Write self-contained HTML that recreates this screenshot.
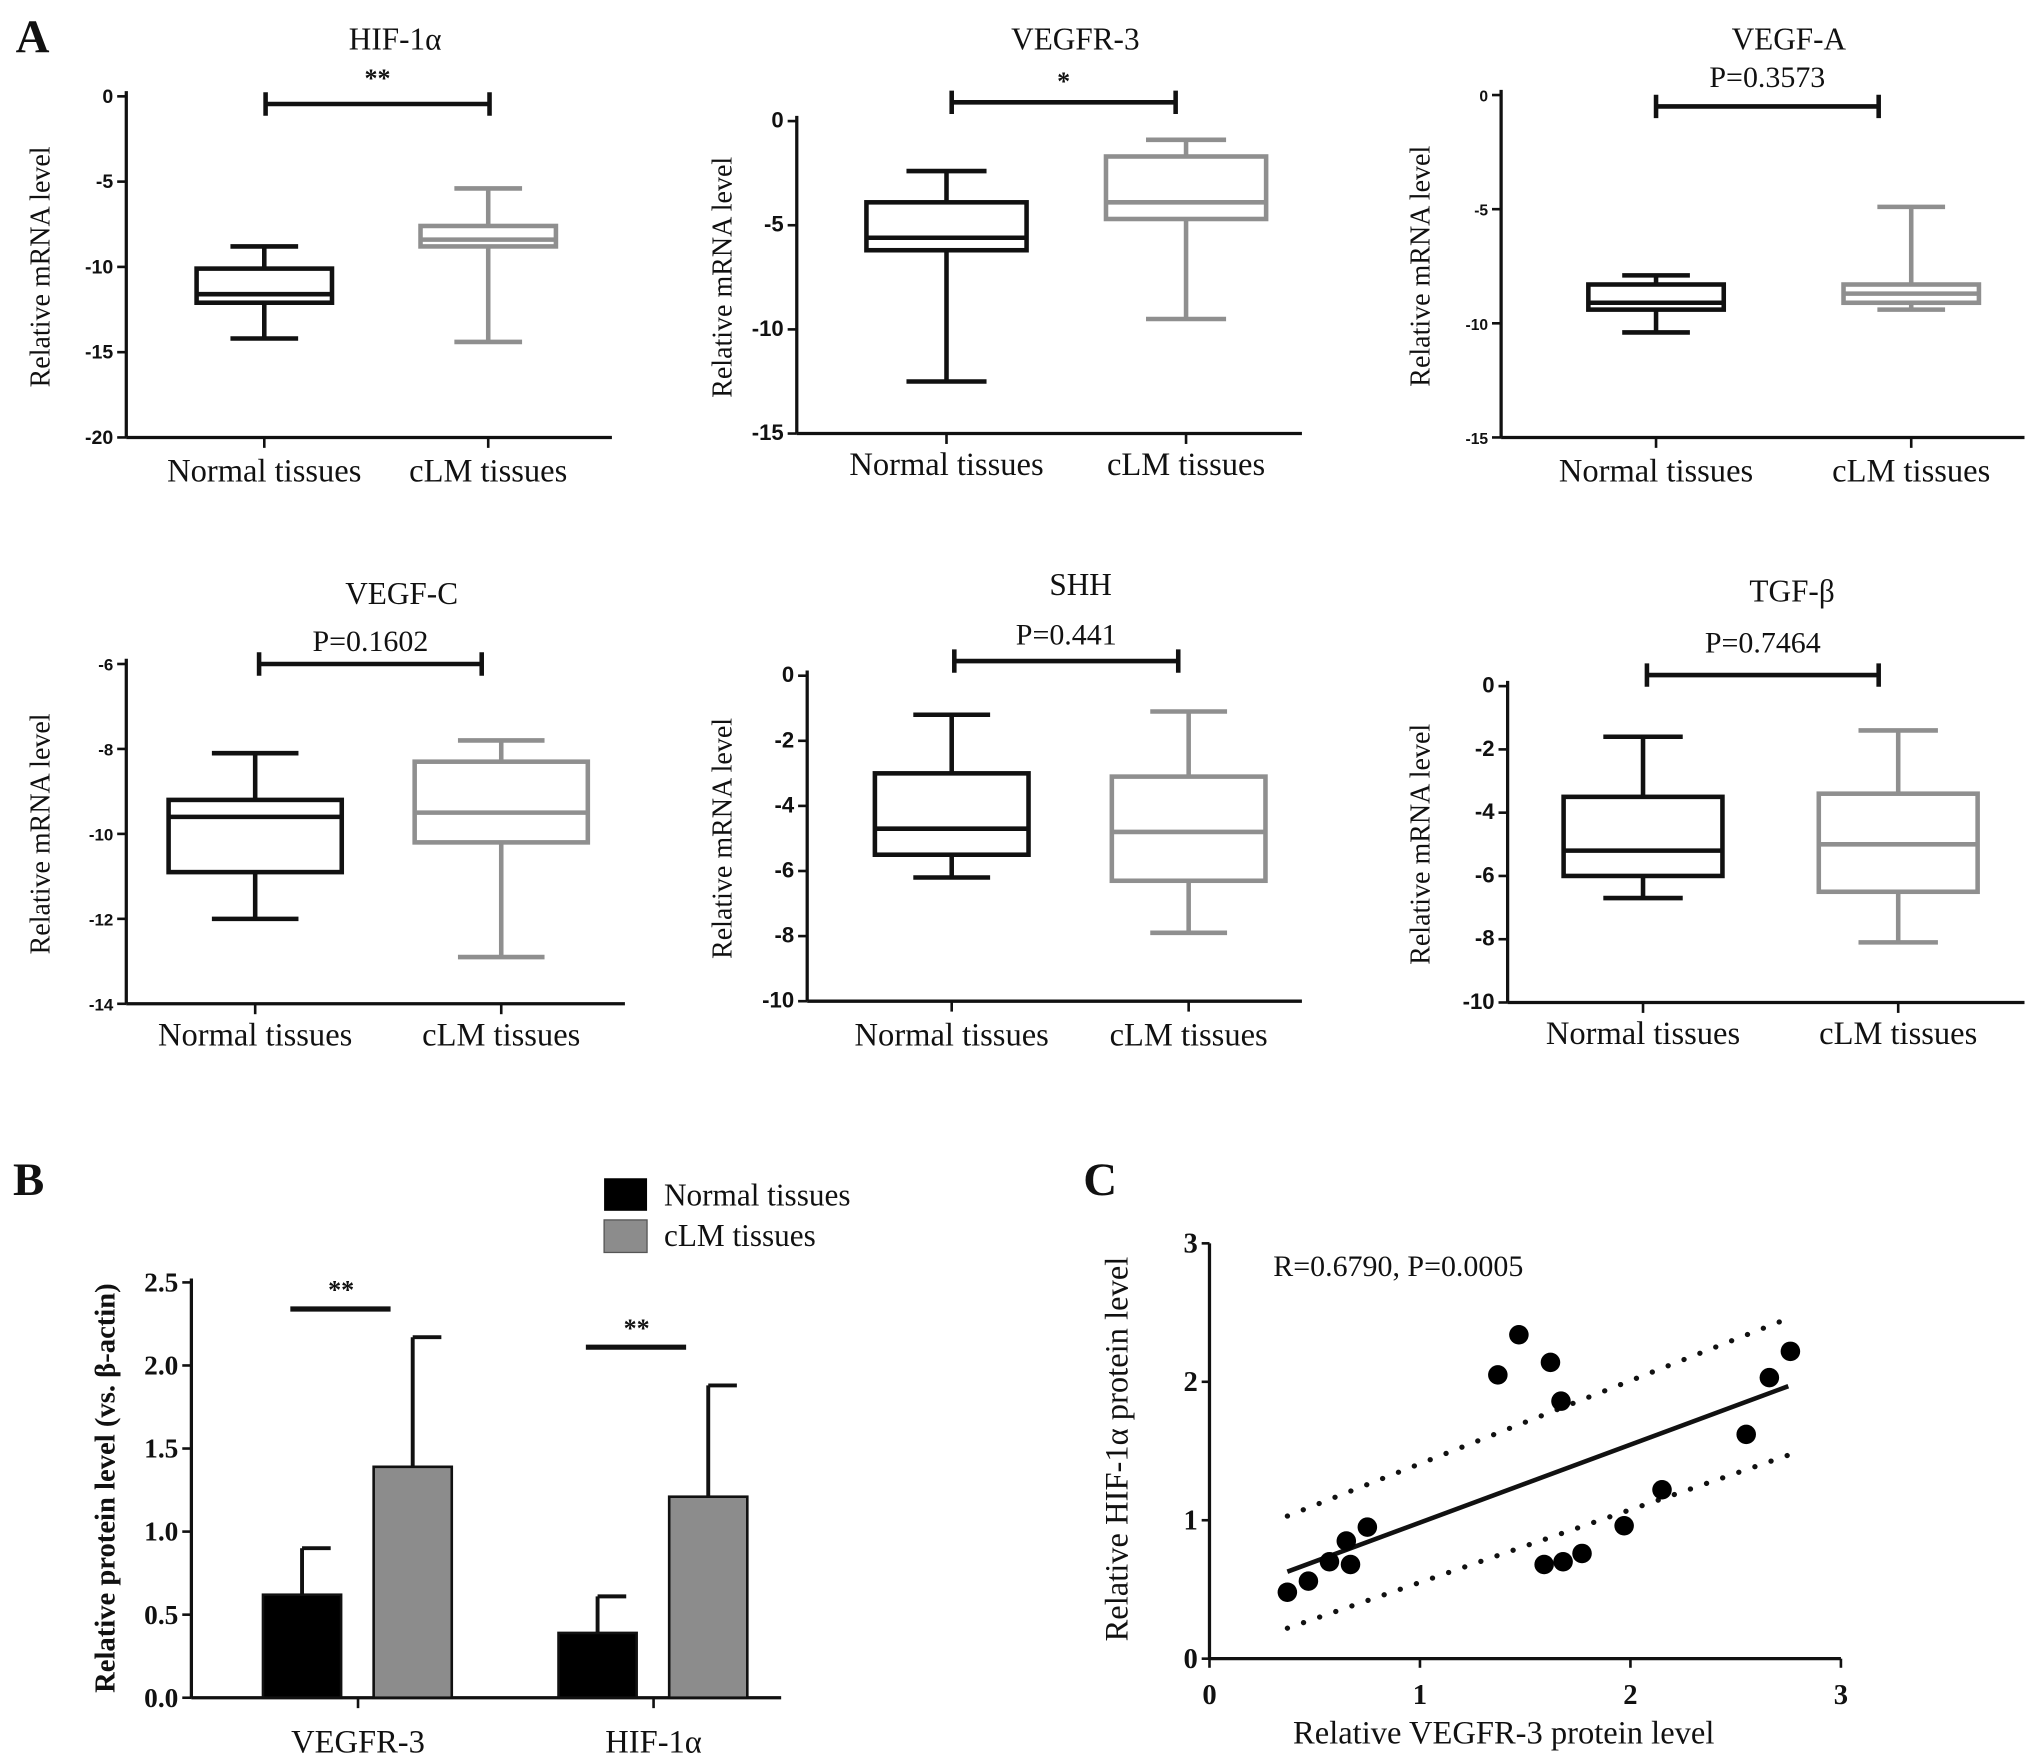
<!DOCTYPE html>
<html><head><meta charset="utf-8"><style>
html,body{margin:0;padding:0;background:#fff}
svg{display:block}
text{font-family:"Liberation Serif",serif;fill:#111}
.sans{font-family:"Liberation Sans",sans-serif;font-weight:bold}
</style></head><body>
<svg id="fig" width="2031" height="1761" viewBox="0 0 1560 1352.6" preserveAspectRatio="none" xmlns="http://www.w3.org/2000/svg">
<text x="12" y="40" font-size="36" font-weight="bold">A</text>
<text x="10" y="918" font-size="36" font-weight="bold">B</text>
<text x="832" y="918" font-size="36" font-weight="bold">C</text>
</svg>
<script>
const NS="http://www.w3.org/2000/svg";
const svg=document.getElementById('fig');
function mk(tag,attrs,parent,txt){const e=document.createElementNS(NS,tag);for(const k in attrs)e.setAttribute(k,attrs[k]);if(txt!==undefined)e.textContent=txt;(parent||svg).appendChild(e);return e;}

// ---- Panel A data ----
const boxTitles=["HIF-1α","VEGFR-3","VEGF-A","VEGF-C","SHH","TGF-β"];
const boxSig=["**","*","P=0.3573","P=0.1602","P=0.441","P=0.7464"];
const boxCategories=["Normal tissues","cLM tissues"];
// [whiskerHigh, q3, median, q1, whiskerLow] for normal and cLM
const normalStats=[[-8.8,-10.1,-11.6,-12.1,-14.2],[-2.4,-3.9,-5.6,-6.2,-12.5],[-7.9,-8.3,-9.1,-9.4,-10.4],[-8.1,-9.2,-9.6,-10.9,-12.0],[-1.2,-3.0,-4.7,-5.5,-6.2],[-1.6,-3.5,-5.2,-6.0,-6.7]];
const clmStats=[[-5.4,-7.6,-8.4,-8.8,-14.4],[-0.9,-1.7,-3.9,-4.7,-9.5],[-4.9,-8.3,-8.7,-9.1,-9.4],[-7.8,-8.3,-9.5,-10.2,-12.9],[-1.1,-3.1,-4.8,-6.3,-7.9],[-1.4,-3.4,-5.0,-6.5,-8.1]];
const yTicksA=[[0,-5,-10,-15,-20],[0,-5,-10,-15],[0,-5,-10,-15],[-6,-8,-10,-12,-14],[0,-2,-4,-6,-8,-10],[0,-2,-4,-6,-8,-10]];
const sigLevel=[-0.45,0.9,-0.5,-6.0,0.45,0.35];

// layout (not data)
const L=[
 {ax:97,x1:470,yTop:74,yBot:336,c:[203,375],bw:104,bx:[204,376],titleY:31,sigY:60,xlY:362,ylX:38,tf:15},
 {ax:612,x1:1000,yTop:93,yBot:333,c:[727,911],bw:123,bx:[731,903],titleY:31,sigY:62,xlY:357,ylX:562,tf:17},
 {ax:1153,x1:1555,yTop:73,yBot:336,c:[1272,1468],bw:104,bx:[1272,1443],titleY:31,sigY:60,xlY:362,ylX:1098,tf:12},
 {ax:97,x1:480,yTop:510,yBot:771,c:[196,385],bw:133,bx:[199,370],titleY:457,sigY:493,xlY:795,ylX:38,tf:13},
 {ax:620,x1:1000,yTop:519,yBot:769,c:[731,913],bw:118,bx:[733,905],titleY:450,sigY:488,xlY:795,ylX:562,tf:17},
 {ax:1158,x1:1555,yTop:527,yBot:770,c:[1262,1458],bw:122,bx:[1265,1443],titleY:455,sigY:494,xlY:794,ylX:1098,tf:17}
];
const colors=["#111","#8f8f8f"];
for(let i=0;i<6;i++){
  const l=L[i],t=yTicksA[i];
  const vmax=t[0],vmin=t[t.length-1];
  const y=v=>l.yTop+(vmax-v)/(vmax-vmin)*(l.yBot-l.yTop);
  const g=mk('g',{});
  
  
  const ax=mk('line',{x1:l.ax,y1:l.yTop-4,x2:l.ax,y2:l.yBot,stroke:'#111','stroke-width':2.5},g);
  
  const xa=mk('line',{x1:l.ax,y1:l.yBot,x2:l.x1,y2:l.yBot,stroke:'#111','stroke-width':2.5},g);
  
  t.forEach(v=>{mk('line',{x1:l.ax-7,y1:y(v),x2:l.ax,y2:y(v),stroke:'#111','stroke-width':2},g);
    const tl=mk('text',{x:l.ax-10,y:y(v)+5,'text-anchor':'end','font-size':l.tf,'class':'sans'},g,String(v));
    });
  const title=mk('text',{x:(l.ax+l.x1)/2+20,y:l.titleY+7,'text-anchor':'middle','font-size':24},g,boxTitles[i]);
  
  const yl=mk('text',{transform:`translate(${l.ylX},${(l.yTop+l.yBot)/2}) rotate(-90)`,'text-anchor':'middle','font-size':21.5},g,'Relative mRNA level');
  
  [normalStats[i],clmStats[i]].forEach((s,k)=>{
    const cx=l.c[k],hw=l.bw/2,col=colors[k];
    mk('line',{x1:cx,y1:l.yBot,x2:cx,y2:l.yBot+8,stroke:'#111','stroke-width':2},g);
    const xl=mk('text',{x:cx,y:l.xlY+8,'text-anchor':'middle','font-size':25},g,boxCategories[k]);
    
    const bg=mk('g',{stroke:col,'stroke-width':3.5,fill:'none'},g);
    
    mk('line',{x1:cx,y1:y(s[0]),x2:cx,y2:y(s[1])},bg);
    mk('line',{x1:cx,y1:y(s[3]),x2:cx,y2:y(s[4])},bg);
    mk('line',{x1:cx-hw/2,y1:y(s[0]),x2:cx+hw/2,y2:y(s[0])},bg);
    mk('line',{x1:cx-hw/2,y1:y(s[4]),x2:cx+hw/2,y2:y(s[4])},bg);
    mk('rect',{x:cx-hw,y:y(s[1]),width:2*hw,height:y(s[3])-y(s[1])},bg);
    mk('line',{x1:cx-hw,y1:y(s[2]),x2:cx+hw,y2:y(s[2])},bg);
  });
  const sy=y(sigLevel[i]);
  const br=mk('path',{d:`M${l.bx[0]},${sy-9}V${sy+9}M${l.bx[0]},${sy}H${l.bx[1]}M${l.bx[1]},${sy-9}V${sy+9}`,stroke:'#111','stroke-width':3.5,fill:'none'},g);
  
  const st=mk('text',{x:(l.bx[0]+l.bx[1])/2,y:l.sigY+7,'text-anchor':'middle','font-size':boxSig[i].length>2?23:20,'font-weight':boxSig[i].length>2?'normal':'bold'},g,boxSig[i]);
  
}

// ---- Panel B ----
const barCategories=["VEGFR-3","HIF-1α"];
const barNormal=[0.62,0.39];
const barNormalErr=[0.90,0.61];
const barClm=[1.39,1.21];
const barClmErr=[2.17,1.88];
const barTicks=["0.0","0.5","1.0","1.5","2.0","2.5"];
const barSigLevels=[2.34,2.11];
(function(){
  const ax=147,y0=1304,yT=985,vmax=2.5,x1=600;
  const y=v=>y0-v/vmax*(y0-yT);
  const g=mk('g',{});
  
  mk('line',{x1:ax,y1:yT-3,x2:ax,y2:y0,stroke:'#111','stroke-width':2.5},g);
  mk('line',{x1:ax,y1:y0,x2:x1,y2:y0,stroke:'#111','stroke-width':2.5},g);
  barTicks.forEach(s=>{const v=parseFloat(s);mk('line',{x1:ax-7,y1:y(v),x2:ax,y2:y(v),stroke:'#111','stroke-width':2},g);
    const tl=mk('text',{x:ax-10,y:y(v)+7,'text-anchor':'end','font-size':21,'font-weight':'bold'},g,s);
    });
  const yl=mk('text',{transform:`translate(88,1143) rotate(-90)`,'text-anchor':'middle','font-size':22,'font-weight':'bold','fill':'#333'},g,'Relative protein level (vs. β-actin)');
  
  const centers=[275,502],bw=60;
  barCategories.forEach((c,i)=>{
    const cx=centers[i];
    mk('line',{x1:cx,y1:y0,x2:cx,y2:y0+8,stroke:'#111','stroke-width':2},g);
    const xl=mk('text',{x:cx,y:1346,'text-anchor':'middle','font-size':25},g,c);
    
    const nx=cx-73,cx2=cx+12;
    mk('line',{x1:nx+bw/2,y1:y(barNormal[i]),x2:nx+bw/2,y2:y(barNormalErr[i]),stroke:'#111','stroke-width':3},g);
    mk('line',{x1:nx+bw/2,y1:y(barNormalErr[i]),x2:nx+bw/2+22,y2:y(barNormalErr[i]),stroke:'#111','stroke-width':3},g);
    const b1=mk('rect',{x:nx,y:y(barNormal[i]),width:bw,height:y0-y(barNormal[i]),fill:'#000',stroke:'#111','stroke-width':2},g);
    
    mk('line',{x1:cx2+bw/2,y1:y(barClm[i]),x2:cx2+bw/2,y2:y(barClmErr[i]),stroke:'#111','stroke-width':3},g);
    mk('line',{x1:cx2+bw/2,y1:y(barClmErr[i]),x2:cx2+bw/2+22,y2:y(barClmErr[i]),stroke:'#111','stroke-width':3},g);
    const b2=mk('rect',{x:cx2,y:y(barClm[i]),width:bw,height:y0-y(barClm[i]),fill:'#8c8c8c',stroke:'#111','stroke-width':2},g);
    
    const sy=y(barSigLevels[i]);
    const sl=mk('line',{x1:cx-52,y1:sy,x2:cx+25,y2:sy,stroke:'#111','stroke-width':4},g);
    
    const st=mk('text',{x:cx-13,y:sy-8,'text-anchor':'middle','font-size':20,'font-weight':'bold'},g,'**');
    
  });
  const lg=mk('g',{},g);
  mk('rect',{x:464,y:905,width:33,height:25,fill:'#000'},lg);
  mk('text',{x:510,y:926,'font-size':24},lg,'Normal tissues');
  mk('rect',{x:464,y:937,width:33,height:25,fill:'#8c8c8c',stroke:'#555'},lg);
  mk('text',{x:510,y:957,'font-size':24},lg,'cLM tissues');
})();

// ---- Panel C ----
const scatterX=[0.37,0.47,0.57,0.65,0.67,0.75,1.37,1.47,1.62,1.67,1.59,1.68,1.77,1.97,2.15,2.55,2.66,2.76];
const scatterY=[0.48,0.56,0.70,0.85,0.68,0.95,2.05,2.34,2.14,1.86,0.68,0.70,0.76,0.96,1.22,1.62,2.03,2.22];
const fitSlope=0.563, fitIntercept=0.42;
const bandUpper=[[0.37,1.03],[2.72,2.44]];
const bandLower=[[0.37,0.22],[2.75,1.47]];
const scatterTicks=[0,1,2,3];
(function(){
  const ax=929,y0=1274,yT=955,xR=1414;
  const X=v=>ax+v/3*(xR-ax), Y=v=>y0-v/3*(y0-yT);
  const g=mk('g',{});
  
  mk('line',{x1:ax,y1:yT,x2:ax,y2:y0,stroke:'#111','stroke-width':2.5},g);
  mk('line',{x1:ax,y1:y0,x2:xR,y2:y0,stroke:'#111','stroke-width':2.5},g);
  scatterTicks.forEach(v=>{
    mk('line',{x1:ax-6,y1:Y(v),x2:ax,y2:Y(v),stroke:'#111','stroke-width':2},g);
    const a=mk('text',{x:ax-9,y:Y(v)+7,'text-anchor':'end','font-size':22,'font-weight':'bold'},g,String(v));
    
    mk('line',{x1:X(v),y1:y0,x2:X(v),y2:y0+7,stroke:'#111','stroke-width':2},g);
    const b=mk('text',{x:X(v),y:y0+35,'text-anchor':'middle','font-size':22,'font-weight':'bold'},g,String(v));
    
  });
  const yl=mk('text',{transform:`translate(866,1113) rotate(-90)`,'text-anchor':'middle','font-size':25,'fill':'#333'},g,'Relative HIF-1α protein level');
  
  const xl=mk('text',{x:1155,y:1339,'text-anchor':'middle','font-size':25,'fill':'#333'},g,'Relative  VEGFR-3 protein level');
  
  const st=mk('text',{x:978,y:980,'font-size':23},g,'R=0.6790,  P=0.0005');
  
  const fl=mk('line',{x1:X(0.37),y1:Y(fitIntercept+fitSlope*0.37),x2:X(2.75),y2:Y(fitIntercept+fitSlope*2.75),stroke:'#111','stroke-width':3.5},g);
  
  [bandUpper,bandLower].forEach((b,k)=>{
    const d=mk('line',{x1:X(b[0][0]),y1:Y(b[0][1]),x2:X(b[1][0]),y2:Y(b[1][1]),stroke:'#111','stroke-width':4,'stroke-dasharray':'0.1 13','stroke-linecap':'round'},g);
    
  });
  scatterX.forEach((x,i)=>{
    const c=mk('circle',{cx:X(x),cy:Y(scatterY[i]),r:7.5,fill:'#000'},g);
    
    
  });
})();
</script>
</body></html>
